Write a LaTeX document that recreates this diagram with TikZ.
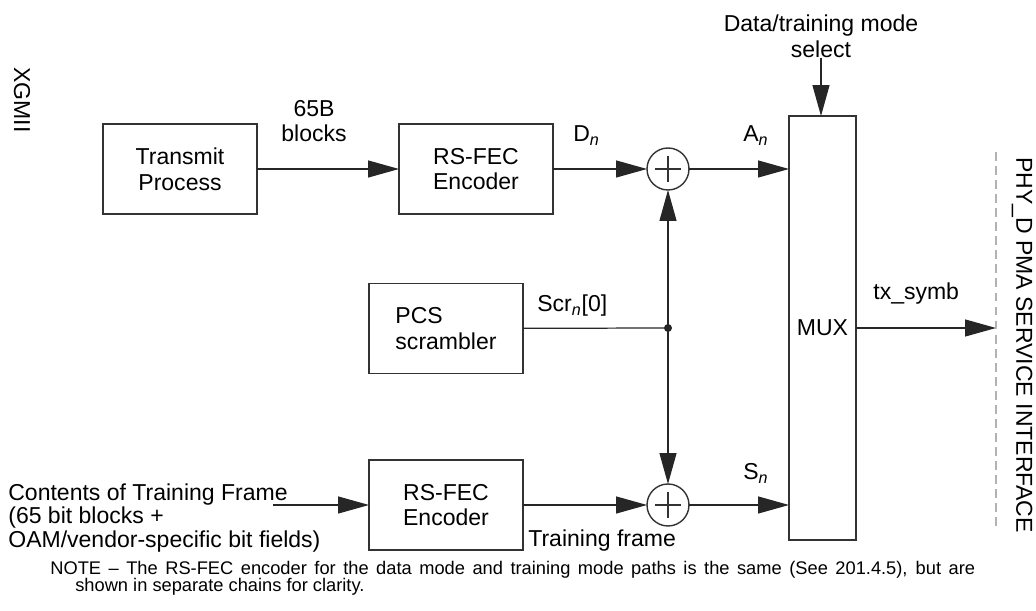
\documentclass[tikz,border=0pt]{standalone}
\usepackage{fontspec}
\setmainfont{Liberation Sans}
\usepackage{tikz}
\usetikzlibrary{arrows.meta, positioning, calc}

\newcommand{\blockfont}{\fontsize{13.1pt}{14.7pt}\selectfont}
\newcommand{\notefont}{\fontsize{10.4pt}{9.7pt}\selectfont}
\newcommand{\subn}{\textsubscript{\itshape n}}

\tikzset{
  % Function blocks
  block/.style={
    rectangle, draw=black!80, line width=0.8pt,
    minimum width=3.08cm, minimum height=1.8cm,
    inner sep=0pt, outer sep=0pt, align=center, font=\blockfont,
  },
  % Modulo-2 adders
  adder/.style={
    circle, draw=black!80, line width=0.8pt, minimum size=0.84cm,
    inner sep=0pt, outer sep=0pt,
    path picture={
      \draw[line width=0.6pt]
        ([xshift=-0.26cm]path picture bounding box.center) --
        ([xshift=0.26cm]path picture bounding box.center)
        ([yshift=-0.26cm]path picture bounding box.center) --
        ([yshift=0.26cm]path picture bounding box.center);
    },
  },
  % Signal arrows
  sig/.style={-{Triangle[length=0.62cm, width=0.34cm]}, line width=0.7pt, draw=black!85},
  % Labels on signals
  siglabel/.style={font=\blockfont, inner sep=0pt, anchor=base west},
  % Interface names
  iflabel/.style={font=\blockfont, inner sep=0pt, rotate=-90},
}

\begin{document}
\begin{tikzpicture}[x=0.02cm, y=-0.02cm]
  \useasboundingbox (0,0) rectangle (1036,611);

  % Data path
  \node[block] (tx) at (180,169) {Transmit\\Process};
  \node[block] (fecdata) at (476,169) {RS-FEC\\Encoder};
  \node[adder] (adddata) at (668,169) {};

  % Scrambler
  \node[block, align=left] (pcs) at (446,328.5) {PCS\\scrambler};
  \coordinate (junc) at (668,328);

  % Training path
  \coordinate (cin) at (273,505);
  \node[block] (fectrain) at (446,505) {RS-FEC\\Encoder};
  \node[adder] (addtrain) at (668,505) {};

  % Mux and PMA interface
  \node[block, minimum width=1.34cm, minimum height=8.48cm] (mux) at (822.5,328) {MUX};
  \coordinate (pmaif) at (996,328);
  \coordinate (iftop) at (996,152);
  \coordinate (ifbot) at (996,528);

  % Labels
  \node[iflabel] (xgmii) at (22,100) {XGMII};
  \node[iflabel] (pmalabel) at (1022,345) {PHY\_D PMA SERVICE INTERFACE};
  \node[font=\blockfont, align=center, inner sep=0pt] (lblblocks) at (314,121) {65B\\blocks};
  \node[siglabel] (lbld) at (573,142) {D\subn};
  \node[siglabel] (lbla) at (743,142) {A\subn};
  \node[siglabel] (lblscr) at (537,312) {Scr\subn[0]};
  \node[siglabel] (lbls) at (743,480) {S\subn};
  \node[siglabel] (lbltrain) at (528,547) {Training frame};
  \node[siglabel] (lbltx) at (873,300) {tx\_symb};
  \node[font=\blockfont, align=center, inner sep=0pt] (modesel) at (821,36)
    {Data/training mode\\select};
  \node[font=\fontsize{13.1pt}{13.6pt}\selectfont, align=left, inner sep=0pt, anchor=north west]
    (contents) at (8,483)
    {Contents of Training Frame\\(65 bit blocks +\\OAM/vendor-specific bit fields)};

  % Connections
  \draw[sig] (tx) -- (fecdata);
  \draw[sig] (fecdata) -- (adddata);
  \draw[sig] (adddata) -- (adddata -| mux.west);
  \draw[line width=0.7pt, black!85] (pcs) -- (junc);
  \fill[black!85] (junc) circle[radius=0.08cm];
  \draw[sig] (junc) -- (adddata);
  \draw[sig] (junc) -- (addtrain);
  \draw[sig] (cin) -- (fectrain);
  \draw[sig] (fectrain) -- (addtrain);
  \draw[sig] (addtrain) -- (addtrain -| mux.west);
  \draw[sig] (modesel) -- (modesel |- mux.north);
  \draw[sig] (mux) -- (pmaif);
  \draw[gray!60, line width=0.7pt, dash pattern=on 5pt off 3pt] (iftop) -- (ifbot);

  % Note
  \node[font=\notefont, align=left, inner sep=0pt, anchor=north west] (note) at (50,561)
    {\makebox[18.5cm][s]{NOTE – The RS-FEC encoder for the data mode and training mode paths is the same (See 201.4.5), but are}\\
     \hspace*{0.5cm}shown in separate chains for clarity.};
\end{tikzpicture}
\end{document}
